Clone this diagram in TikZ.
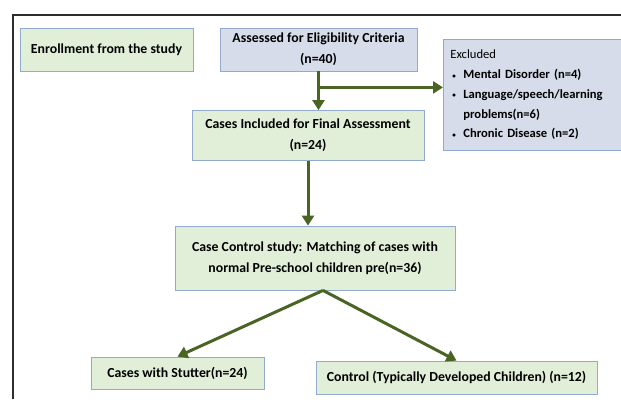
\documentclass[tikz,border=0pt]{standalone}
\usepackage{fontspec}
\setmainfont{Carlito}
\usetikzlibrary{arrows.meta,calc}

\definecolor{boxgreen}{RGB}{226,239,216}
\definecolor{boxblue}{RGB}{214,220,234}
\definecolor{boxline}{RGB}{146,170,205}
\definecolor{arrowgreen}{RGB}{74,100,36}
\definecolor{framegray}{RGB}{45,45,45}

\tikzset{
  stagebox/.style={draw=boxline, line width=0.8pt, fill=boxgreen, align=center,
    font=\fontsize{13.8}{21}\selectfont\bfseries, inner sep=0pt},
  checkbox/.style={stagebox, fill=boxblue},
  flow/.style={draw=arrowgreen, line width=3pt, -{Triangle[length=10pt,width=12pt]}}
}

\newcommand{\bul}{\makebox[11pt][l]{\raisebox{0.5pt}{\scriptsize\textbullet}}}

\begin{document}
\begin{tikzpicture}[x=1pt,y=-1pt]
    \useasboundingbox (0,0) rectangle (621,399);

    % outer frame, only top and left edges visible
    \draw[framegray, line width=2pt] (13,399) -- (13,15) -- (621,15);

    % boxes, placed at the pixel positions of the reference
    \node[stagebox, minimum width=173pt, minimum height=43pt] (enroll) at (106.5,49.5)
        {Enrollment from the study};
    \node[checkbox, minimum width=197pt, minimum height=43pt] (assess) at (318.5,49.5)
        {Assessed for Eligibility Criteria\\(n=40)};
    \node[checkbox, anchor=north west, minimum width=177pt, minimum height=111pt,
          text width=165pt, align=left, inner xsep=7pt,
          font=\fontsize{12.6}{19.7}\selectfont\bfseries] (excl) at (443,39)
        {{\mdseries Excluded}\\
         \hspace*{2pt}\bul Mental Disorder (n=4)\\
         \hspace*{2pt}\bul Language/speech/learning\\
         \hspace*{13pt}problems(n=6)\\
         \hspace*{2pt}\bul Chronic Disease (n=2)};
    \node[stagebox, minimum width=232pt, minimum height=50pt] (cases) at (308,135.5)
        {Cases Included for Final Assessment\\(n=24)};
    \node[stagebox, minimum width=280pt, minimum height=64pt] (match) at (315,258)
        {Case Control study: Matching of cases with\\normal Pre-school children pre(n=36)};
    \node[stagebox, minimum width=173pt, minimum height=32pt] (stutter) at (177.5,373)
        {Cases with Stutter(n=24)};
    \node[stagebox, minimum width=281pt, minimum height=33pt] (control) at (456.5,377.5)
        {Control (Typically Developed Children) (n=12)};

    % connectors
    \coordinate (split) at ($(assess.south)+(0,16)$);
    \coordinate (apex) at ($(match.south)+(8,0)$);
    \draw[flow] (assess.south) -- (assess.south |- cases.north);
    \draw[flow] (split) -- (split -| excl.west);
    \draw[flow] (cases.south) -- (cases.south |- match.north);
    \draw[flow] (apex) -- (stutter.north);
    \draw[flow] (apex) -- (control.north);

\end{tikzpicture}
\end{document}
